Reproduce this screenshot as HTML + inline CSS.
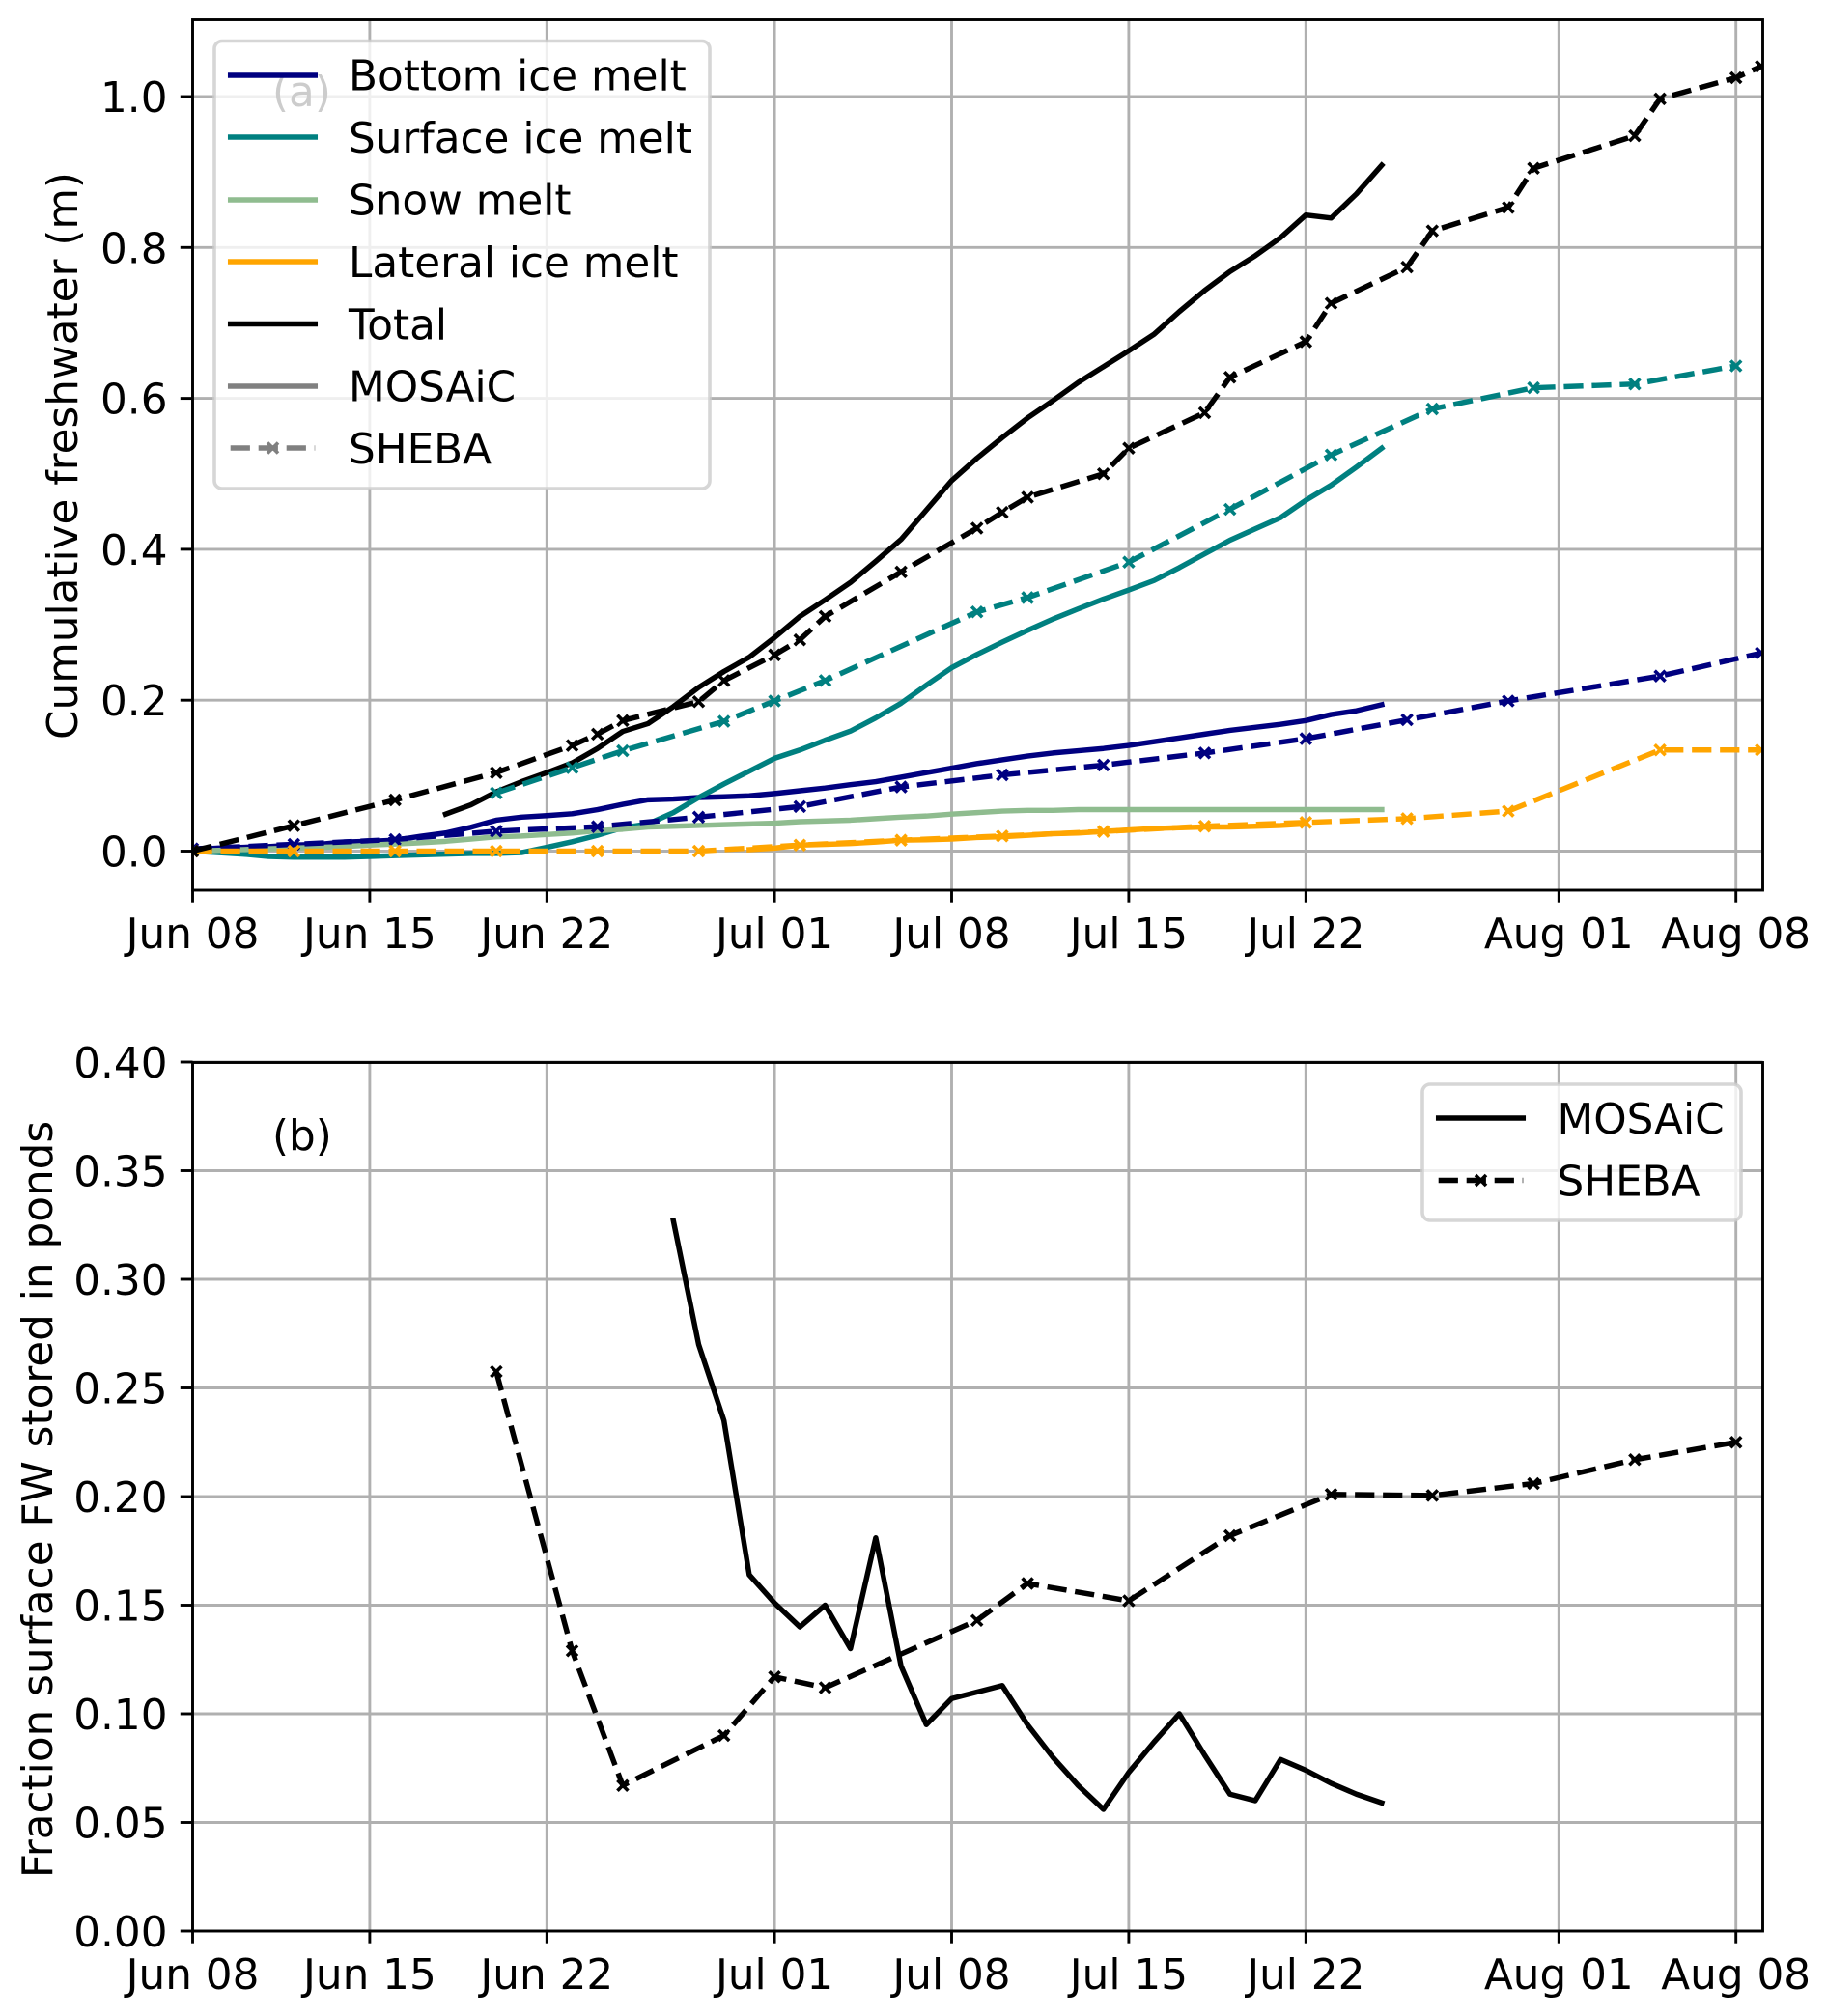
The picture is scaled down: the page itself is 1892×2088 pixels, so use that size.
<!DOCTYPE html>
<html lang="en">
<head>
<meta charset="utf-8">
<title>Cumulative freshwater and pond storage, MOSAiC vs SHEBA</title>
<style>
html,body{margin:0;padding:0;background:#fff;}
svg{display:block;}
text{font-family:"DejaVu Sans","Liberation Sans",sans-serif;fill:#000;}
</style>
</head>
<body>
<svg id="figure" xmlns="http://www.w3.org/2000/svg" width="1892" height="2088" viewBox="0 0 1892 2088">
  <defs>
    <clipPath id="clip-a"><rect x="199.5" y="20.5" width="1626" height="901.5"/></clipPath>
    <clipPath id="clip-b"><rect x="199.5" y="1100.5" width="1626" height="899.5"/></clipPath>
  </defs>
  <rect width="1892" height="2088" fill="#fff"/>
  <g id="panel-a"></g>
  <g id="panel-b"></g>

  <g>
    <rect x="222" y="42.5" width="513" height="463.5" rx="8" ry="8" fill="#fff" fill-opacity="0.8" stroke="#ccc" stroke-opacity="0.8" stroke-width="3.6"/>
    <g>
      <line x1="238.7" x2="326.3" y1="78" y2="78" stroke="#000080" stroke-width="5.46" stroke-linecap="square"/>
      <text x="361" y="93.500" font-size="43.7">Bottom ice melt</text>
    </g>
    <g>
      <line x1="238.7" x2="326.3" y1="142" y2="142" stroke="#008080" stroke-width="5.46" stroke-linecap="square"/>
      <text x="361" y="158" font-size="43.7">Surface ice melt</text>
    </g>
    <g>
      <line x1="238.7" x2="326.3" y1="207" y2="207" stroke="#8fbc8f" stroke-width="5.46" stroke-linecap="square"/>
      <text x="361" y="222.500" font-size="43.7">Snow melt</text>
    </g>
    <g>
      <line x1="238.7" x2="326.3" y1="271" y2="271" stroke="#ffa500" stroke-width="5.46" stroke-linecap="square"/>
      <text x="361" y="287" font-size="43.7">Lateral ice melt</text>
    </g>
    <g>
      <line x1="238.7" x2="326.3" y1="335.5" y2="335.5" stroke="#000" stroke-width="5.46" stroke-linecap="square"/>
      <text x="361" y="351.500" font-size="43.7">Total</text>
    </g>
    <g>
      <line x1="238.7" x2="326.3" y1="400" y2="400" stroke="#808080" stroke-width="5.46" stroke-linecap="square"/>
      <text x="361" y="415.500" font-size="43.7">MOSAiC</text>
    </g>
    <g>
      <line x1="238.7" x2="326.3" y1="464" y2="464" stroke="#808080" stroke-width="5.46" stroke-dasharray="20.2 8.8"/>
      <path d="M277 458.500L288 469.500M277 469.500L288 458.500" stroke="#808080" stroke-width="3.6" fill="none"/>
      <text x="361" y="480" font-size="43.7">SHEBA</text>
    </g>
  </g>

  <g>
    <rect x="1473" y="1123" width="330" height="141" rx="8" ry="8" fill="#fff" fill-opacity="0.8" stroke="#ccc" stroke-opacity="0.8" stroke-width="3.6"/>
    <g>
      <line x1="1489.7" x2="1577.3" y1="1158" y2="1158" stroke="#000" stroke-width="5.46" stroke-linecap="square"/>
      <text x="1612.5" y="1174" font-size="43.7">MOSAiC</text>
    </g>
    <g>
      <line x1="1489.7" x2="1577.3" y1="1222.500" y2="1222.500" stroke="#000" stroke-width="5.46" stroke-dasharray="20.2 8.8"/>
      <path d="M1528 1217L1539 1228M1528 1228L1539 1217" stroke="#000" stroke-width="3.6" fill="none"/>
      <text x="1612.5" y="1238.500" font-size="43.7">SHEBA</text>
    </g>
  </g>
</svg>

<script>
// ---- Shared x axis: days since Jun 08 ----
const xTickDays = [0, 7, 14, 23, 30, 37, 44, 54, 61];
const xTickLabels = ["Jun 08", "Jun 15", "Jun 22", "Jul 01", "Jul 08", "Jul 15", "Jul 22", "Aug 01", "Aug 08"];

// ---- Panel (a) axis ticks ----
const yTicksA = [0.0, 0.2, 0.4, 0.6, 0.8, 1.0];
const yTickLabelsA = ["0.0", "0.2", "0.4", "0.6", "0.8", "1.0"];

// ---- Panel (b) axis ticks ----
const yTicksB = [0.00, 0.05, 0.10, 0.15, 0.20, 0.25, 0.30, 0.35, 0.40];
const yTickLabelsB = ["0.00", "0.05", "0.10", "0.15", "0.20", "0.25", "0.30", "0.35", "0.40"];

// ---- Panel (a) MOSAiC series (daily) ----
const mosaicDays = [0,1,2,3,4,5,6,7,8,9,10,11,12,13,14,15,16,17,18,19,20,21,22,23,24,25,26,27,28,29,30,31,32,33,34,35,36,37,38,39,40,41,42,43,44,45,46,47];
const mosaicBottom = [0.002,0.004,0.005,0.006,0.008,0.009,0.012,0.013,0.0145,0.0196,0.024,0.0316,0.041,0.045,0.047,0.0495,0.055,0.062,0.068,0.069,0.071,0.072,0.0733,0.0763,0.08,0.0836,0.088,0.092,0.098,0.104,0.11,0.116,0.121,0.126,0.13,0.133,0.136,0.14,0.145,0.15,0.155,0.16,0.164,0.168,0.173,0.181,0.186,0.194];
const mosaicSurface = [0,-0.002,-0.004,-0.007,-0.008,-0.008,-0.008,-0.007,-0.006,-0.005,-0.004,-0.003,-0.003,-0.002,0.005,0.0124,0.021,0.031,0.036,0.051,0.071,0.089,0.106,0.123,0.134,0.147,0.159,0.1765,0.196,0.22,0.243,0.2606,0.277,0.2925,0.3075,0.321,0.334,0.346,0.3586,0.3757,0.394,0.412,0.427,0.442,0.465,0.485,0.509,0.534];
const mosaicSnow = [0,0.001,0.002,0.003,0.004,0.005,0.006,0.008,0.0094,0.011,0.013,0.016,0.019,0.02,0.022,0.024,0.027,0.029,0.032,0.033,0.034,0.035,0.036,0.037,0.039,0.04,0.041,0.043,0.045,0.0465,0.049,0.051,0.053,0.054,0.054,0.055,0.055,0.055,0.055,0.055,0.055,0.055,0.055,0.055,0.055,0.055,0.055,0.055];
const mosaicLateralDays = [22,23,24,25,26,27,28,29,30,31,32,33,34,35,36,37,38,39,40,41,42,43,44];
const mosaicLateral = [0.002,0.004,0.008,0.009,0.01,0.012,0.0145,0.015,0.016,0.018,0.019,0.021,0.023,0.024,0.026,0.028,0.03,0.031,0.032,0.032,0.033,0.034,0.036];
const mosaicTotalDays = [10,11,12,13,14,15,16,17,18,19,20,21,22,23,24,25,26,27,28,29,30,31,32,33,34,35,36,37,38,39,40,41,42,43,44,45,46,47];
const mosaicTotal = [0.049,0.0614,0.0785,0.092,0.104,0.1168,0.136,0.1586,0.169,0.1915,0.217,0.238,0.257,0.283,0.311,0.333,0.356,0.384,0.413,0.452,0.491,0.5207,0.548,0.574,0.597,0.621,0.642,0.663,0.685,0.715,0.743,0.768,0.789,0.813,0.843,0.839,0.871,0.909];

// ---- Panel (a) SHEBA series (irregular) ----
const shebaTotalDays = [0,4,8,12,15,16,17,20,21,23,24,25,28,31,32,33,36,37,40,41,44,45,48,49,52,53,57,58,61,62];
const shebaTotal = [0,0.0337,0.0678,0.104,0.14,0.155,0.173,0.198,0.226,0.26,0.28,0.311,0.37,0.428,0.449,0.469,0.5,0.534,0.581,0.628,0.675,0.726,0.774,0.822,0.853,0.905,0.948,0.997,1.025,1.04];
const shebaSurfaceDays = [12,15,17,21,23,25,31,33,37,41,45,49,53,57,61];
const shebaSurface = [0.077,0.1105,0.133,0.172,0.199,0.226,0.317,0.336,0.383,0.453,0.525,0.586,0.614,0.619,0.643];
const shebaComponentDays = [0,4,8,12,16,20,24,28,32,36,40,44,48,52,58,62];
const shebaBottom = [0.003,0.009,0.0154,0.0264,0.0324,0.045,0.059,0.085,0.101,0.114,0.13,0.149,0.174,0.199,0.232,0.2625];
const shebaLateral = [0,0,0,0,0,0,0.008,0.0145,0.02,0.026,0.033,0.038,0.043,0.053,0.134,0.134];

// ---- Panel (b) series ----
const pondMosaicDays = [19,20,21,22,23,24,25,26,27,28,29,30,31,32,33,34,35,36,37,38,39,40,41,42,43,44,45,46,47];
const pondMosaic = [0.327,0.27,0.235,0.164,0.151,0.14,0.15,0.13,0.181,0.122,0.095,0.107,0.11,0.113,0.095,0.08,0.067,0.056,0.073,0.087,0.1,0.081,0.063,0.06,0.079,0.074,0.068,0.063,0.059];
const pondShebaDays = [12,15,17,21,23,25,31,33,37,41,45,49,53,57,61];
const pondSheba = [0.2575,0.129,0.067,0.09,0.117,0.112,0.143,0.16,0.152,0.182,0.201,0.2005,0.206,0.217,0.225];

// ---- Axis functions ----
const SVG_NS = "http://www.w3.org/2000/svg";
const xLeft = 199.5, xRight = 1825.5, pxPerDay = 26.2;
function xScale(day) { return xLeft + pxPerDay * day; }
function yScaleA(v) { return 881.5 - 781.5 * v; }
function yScaleB(v) { return 2000 - 2250 * v; }
const topA = 20.5, bottomA = 922, topB = 1100.5, bottomB = 2000;

function make(tag, attrs, parent) {
  const el = document.createElementNS(SVG_NS, tag);
  for (const k in attrs) el.setAttribute(k, attrs[k]);
  parent.appendChild(el);
  return el;
}

function drawGrid(panel, yTicks, yScale, top, bottom) {
  const grid = make("g", {}, panel);
  
  
  xTickDays.forEach(function (d) {
    const l = make("line", { x1: xScale(d), x2: xScale(d), y1: top, y2: bottom, stroke: "#b0b0b0", "stroke-width": 2.9 }, grid);
    
    
  });
  yTicks.forEach(function (v) {
    const l = make("line", { x1: xLeft, x2: xRight, y1: yScale(v), y2: yScale(v), stroke: "#b0b0b0", "stroke-width": 2.9 }, grid);
    
    
  });
}

function drawSeries(panel, clipId, days, values, yScale, color, dashed, name) {
  const g = make("g", { "clip-path": "url(#" + clipId + ")" }, panel);
  
  
  const pts = days.map(function (d, i) { return xScale(d).toFixed(2) + "," + yScale(values[i]).toFixed(2); }).join(" ");
  const attrs = { points: pts, fill: "none", stroke: color, "stroke-width": 5.46, "stroke-linejoin": "round" };
  if (dashed) { attrs["stroke-dasharray"] = "20.2 8.8"; attrs["stroke-linecap"] = "butt"; }
  else { attrs["stroke-linecap"] = "square"; }
  const line = make("polyline", attrs, g);
  
  
  if (dashed) {
    const r = 5.5;
    days.forEach(function (d, i) {
      const x = xScale(d), y = yScale(values[i]);
      const m = make("path", {
        d: "M" + (x - r) + " " + (y - r) + "L" + (x + r) + " " + (y + r) + "M" + (x - r) + " " + (y + r) + "L" + (x + r) + " " + (y - r),
        stroke: color, "stroke-width": 3.6, fill: "none"
      }, g);
      
      
    });
  }
}

function drawAxes(panel, yTicks, yLabels, yScale, top, bottom) {
  const axes = make("g", {}, panel);
  
  
  xTickDays.forEach(function (d, i) {
    const t = make("line", { x1: xScale(d), x2: xScale(d), y1: bottom, y2: bottom + 12.7, stroke: "#000", "stroke-width": 2.9 }, axes);
    
    
    const lab = make("text", { x: xScale(d), y: bottom + 60, "font-size": 43.7, "text-anchor": "middle" }, axes);
    
    
    lab.textContent = xTickLabels[i];
  });
  yTicks.forEach(function (v, i) {
    const t = make("line", { x1: xLeft - 12.7, x2: xLeft, y1: yScale(v), y2: yScale(v), stroke: "#000", "stroke-width": 2.9 }, axes);
    
    
    const lab = make("text", { x: xLeft - 26, y: yScale(v) + 16, "font-size": 43.7, "text-anchor": "end" }, axes);
    
    
    lab.textContent = yLabels[i];
  });
  const frame = make("rect", { x: xLeft, y: top, width: xRight - xLeft, height: bottom - top, fill: "none", stroke: "#000", "stroke-width": 2.9 }, axes);
  
  
}

function addText(panel, name, content, attrs) {
  const t = make("text", attrs, panel);
  
  
  t.textContent = content;
}

// ---- Panel (a) ----
const panelA = document.getElementById("panel-a");
drawGrid(panelA, yTicksA, yScaleA, topA, bottomA);
addText(panelA, 'panel-a-label', '(a)', { x: 282, y: 110, "font-size": 43.7 });
drawSeries(panelA, "clip-a", mosaicDays, mosaicBottom, yScaleA, "#000080", false, 'mosaic-bottom-melt');
drawSeries(panelA, "clip-a", mosaicDays, mosaicSurface, yScaleA, "#008080", false, 'mosaic-surface-melt');
drawSeries(panelA, "clip-a", mosaicDays, mosaicSnow, yScaleA, "#8fbc8f", false, 'mosaic-snow-melt');
drawSeries(panelA, "clip-a", mosaicLateralDays, mosaicLateral, yScaleA, "#ffa500", false, 'mosaic-lateral-melt');
drawSeries(panelA, "clip-a", mosaicTotalDays, mosaicTotal, yScaleA, "#000", false, 'mosaic-total');
drawSeries(panelA, "clip-a", shebaComponentDays, shebaBottom, yScaleA, "#000080", true, 'sheba-bottom-melt');
drawSeries(panelA, "clip-a", shebaSurfaceDays, shebaSurface, yScaleA, "#008080", true, 'sheba-surface-melt');
drawSeries(panelA, "clip-a", shebaComponentDays, shebaLateral, yScaleA, "#ffa500", true, 'sheba-lateral-melt');
drawSeries(panelA, "clip-a", shebaTotalDays, shebaTotal, yScaleA, "#000", true, 'sheba-total');
drawAxes(panelA, yTicksA, yTickLabelsA, yScaleA, topA, bottomA);
addText(panelA, 'y-axis-title-a', 'Cumulative freshwater (m)', { transform: "translate(80 472) rotate(-90)", "font-size": 43.7, "text-anchor": "middle" });

// ---- Panel (b) ----
const panelB = document.getElementById("panel-b");
drawGrid(panelB, yTicksB, yScaleB, topB, bottomB);
addText(panelB, 'panel-b-label', '(b)', { x: 282, y: 1191, "font-size": 43.7 });
drawSeries(panelB, "clip-b", pondMosaicDays, pondMosaic, yScaleB, "#000", false, 'pond-fraction-mosaic');
drawSeries(panelB, "clip-b", pondShebaDays, pondSheba, yScaleB, "#000", true, 'pond-fraction-sheba');
drawAxes(panelB, yTicksB, yTickLabelsB, yScaleB, topB, bottomB);
addText(panelB, 'y-axis-title-b', 'Fraction surface FW stored in ponds', { transform: "translate(54 1553) rotate(-90)", "font-size": 43.7, "text-anchor": "middle" });
</script>
</body>
</html>
